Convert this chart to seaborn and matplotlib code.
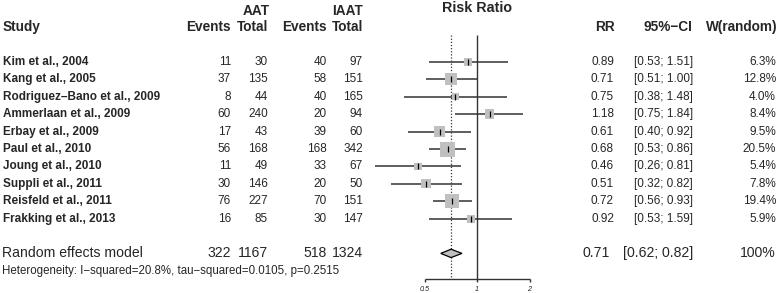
import numpy as np
import matplotlib
matplotlib.use("Agg")
import matplotlib.pyplot as plt
import seaborn as sns

# data
studies = ["Kim et al., 2004", "Kang et al., 2005", "Rodriguez\u2013Bano et al., 2009",
           "Ammerlaan et al., 2009", "Erbay et al., 2009", "Paul et al., 2010",
           "Joung et al., 2010", "Suppli et al., 2011", "Reisfeld et al., 2011",
           "Frakking et al., 2013"]
ev_aat = [11, 37, 8, 60, 17, 56, 11, 30, 76, 16]
n_aat = [30, 135, 44, 240, 43, 168, 49, 146, 227, 85]
ev_iaat = [40, 58, 40, 20, 39, 168, 33, 20, 70, 30]
n_iaat = [97, 151, 165, 94, 60, 342, 67, 50, 151, 147]
rr = [0.89, 0.71, 0.75, 1.18, 0.61, 0.68, 0.46, 0.51, 0.72, 0.92]
ci_lo = [0.53, 0.51, 0.38, 0.75, 0.40, 0.53, 0.26, 0.32, 0.56, 0.53]
ci_hi = [1.51, 1.00, 1.48, 1.84, 0.92, 0.86, 0.81, 0.82, 0.93, 1.59]
weight = [6.3, 12.8, 4.0, 8.4, 9.5, 20.5, 5.4, 7.8, 19.4, 5.9]

pooled_counts = [322, 1167, 518, 1324]
pooled_rr, pooled_lo, pooled_hi = 0.71, 0.62, 0.82
heterogeneity = "Heterogeneity: I\u2212squared=20.8%, tau\u2212squared=0.0105, p=0.2515"
ticks = [0.5, 1, 2]

sns.set_theme(style="white")
plt.rcParams["font.family"] = ["Liberation Sans", "DejaVu Sans"]

W, H = 778, 293
fig = plt.figure(figsize=(W / 100, H / 100), dpi=100)

# rows: 0..9 studies, 11 pooled, 12 heterogeneity
row_px, row_h = 62, 17.4
ylim = ((H - row_px) / row_h, -row_px / row_h)
rows = np.arange(len(studies))
pooled_row = 11
axis_row = (279 - row_px) / row_h
top_row = (35 - row_px) / row_h

# text panel in pixel-like x units
axt = fig.add_axes([0, 0, 1, 1])
axt.set_xlim(0, W)
axt.set_ylim(*ylim)
axt.axis("off")

fs = 8.5
hdr = 9.8
axt.text(3, -2, "Study", fontsize=hdr, fontweight="bold", va="center")
col_x = [231, 268, 327, 363]
for x, lab in zip(col_x, ["Events", "Total", "Events", "Total"]):
    axt.text(x, -2, lab, fontsize=hdr, fontweight="bold", ha="right", va="center")
axt.text(270, -2.93, "AAT", fontsize=hdr, fontweight="bold", ha="right", va="center")
axt.text(363, -2.93, "IAAT", fontsize=hdr, fontweight="bold", ha="right", va="center")
axt.text(615, -2, "RR", fontsize=hdr, fontweight="bold", ha="right", va="center")
axt.text(692, -2, "95%\u2212CI", fontsize=hdr, fontweight="bold", ha="right", va="center")
axt.text(777, -2, "W(random)", fontsize=hdr, fontweight="bold", ha="right", va="center")

for i, name in enumerate(studies):
    axt.text(3, rows[i], name, fontsize=fs, fontweight="bold", va="center")
    for x, vals in zip(col_x, [ev_aat, n_aat, ev_iaat, n_iaat]):
        axt.text(x, rows[i], str(vals[i]), fontsize=fs, ha="right", va="center")
    axt.text(614, rows[i], f"{rr[i]:.2f}", fontsize=fs, ha="right", va="center")
    axt.text(693, rows[i], f"[{ci_lo[i]:.2f}; {ci_hi[i]:.2f}]", fontsize=fs, ha="right", va="center")
    axt.text(776, rows[i], f"{weight[i]:.1f}%", fontsize=fs, ha="right", va="center")

big = 10.1
axt.text(2, pooled_row, "Random effects model", fontsize=big, va="center")
for x, v in zip(col_x, pooled_counts):
    axt.text(x, pooled_row, str(v), fontsize=big, ha="right", va="center")
axt.text(610, pooled_row, f"{pooled_rr:.2f}", fontsize=big, ha="right", va="center")
axt.text(693, pooled_row, f"[{pooled_lo:.2f}; {pooled_hi:.2f}]", fontsize=big, ha="right", va="center")
axt.text(776, pooled_row, "100%", fontsize=big, ha="right", va="center")
axt.text(2, 12, heterogeneity, fontsize=8.3, va="center")

# forest panel, log scale
def px_to_val(p):
    return 2 ** ((p - 477) / 52.5)

left, right = 370, 565
ax = fig.add_axes([left / W, 0, (right - left) / W, 1])
ax.set_xscale("log")
ax.set_xlim(px_to_val(left), px_to_val(right))
ax.set_ylim(*ylim)
ax.axis("off")
ax.patch.set_alpha(0)

ax.text(1, -3.12, "Risk Ratio", fontsize=10.3, fontweight="bold", ha="center", va="center")

ax.vlines(1, top_row, axis_row, color="#333333", lw=1.0, zorder=1)
ax.vlines(pooled_rr, top_row, axis_row, color="#333333", lw=0.9, linestyles=(0, (1, 1.5)), zorder=1)
ax.hlines(rows, ci_lo, ci_hi, color="#333333", lw=1.1, zorder=2)

k = (15 * 0.72) ** 2 / 20.5
sns.scatterplot(x=rr, y=rows, size=weight, sizes=(k * min(weight), k * max(weight)),
                size_norm=(min(weight), max(weight)), marker="s", color="#c0c0c0",
                edgecolor="none", linewidth=0, legend=False, ax=ax, zorder=3)
ax.scatter(rr, rows, marker="|", s=14, color="black", linewidths=0.9, zorder=4)

dh = 0.24
ax.fill([pooled_lo, pooled_rr, pooled_hi, pooled_rr],
        [pooled_row, pooled_row - dh, pooled_row, pooled_row + dh],
        facecolor="#c0c0c0", edgecolor="black", lw=0.9, zorder=3)

ax.hlines(axis_row, ticks[0], ticks[-1], color="#333333", lw=1.0)
ax.vlines(ticks, axis_row, axis_row + 0.2, color="#333333", lw=1.0)
for t in ticks:
    ax.text(t, 13.05, f"{t:g}", fontsize=5.2, style="italic", ha="center", va="center")

fig.savefig("out.png", dpi=100)
